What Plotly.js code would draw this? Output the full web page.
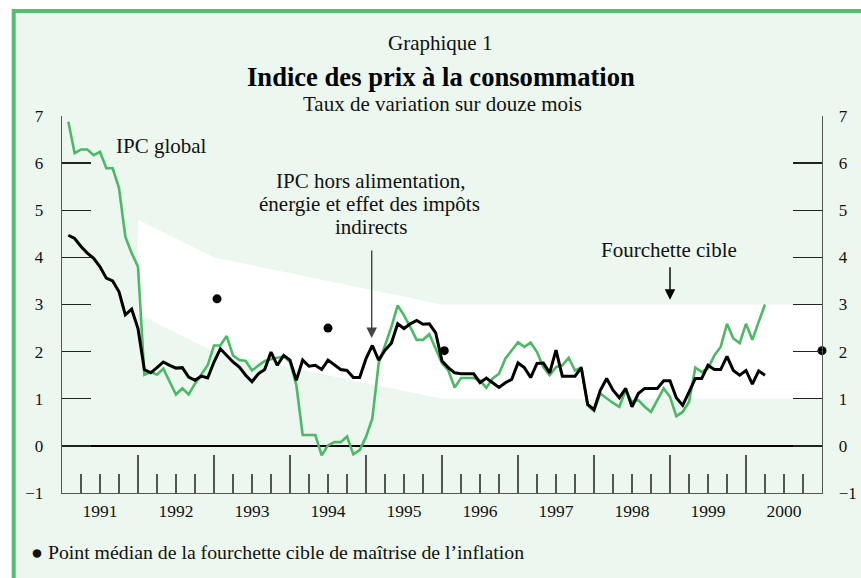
<!DOCTYPE html>
<html>
<head>
<meta charset="utf-8">
<script src="https://cdn.plot.ly/plotly-3.0.1.min.js"></script>
<style>html,body{margin:0;padding:0;background:#fff;} #chart{width:861px;height:578px;}</style>
</head>
<body>
<div id="chart"></div>
<script>
// Monthly observations, January 1991 to March 2000 (12-month % change)
const startYear = 1991;
const cpiTotal = [
  6.88, 6.21, 6.29, 6.29, 6.17, 6.24, 5.89, 5.89, 5.47, 4.44, 4.09, 3.80,
  1.51, 1.57, 1.51, 1.64, 1.36, 1.09, 1.22, 1.09, 1.32, 1.51, 1.71, 2.13,
  2.13, 2.33, 1.92, 1.82, 1.80, 1.60, 1.71, 1.80, 1.84, 1.87, 1.90, 1.78,
  1.29, 0.23, 0.23, 0.23, -0.20, 0.01, 0.08, 0.08, 0.20, -0.18, -0.09, 0.19,
  0.58, 1.75, 2.13, 2.52, 2.98, 2.77, 2.52, 2.25, 2.25, 2.37, 2.06, 1.75,
  1.60, 1.24, 1.44, 1.44, 1.44, 1.39, 1.23, 1.43, 1.53, 1.85, 2.03, 2.20,
  2.10, 2.19, 1.99, 1.67, 1.50, 1.67, 1.71, 1.87, 1.60, 1.66, 0.86, 0.74,
  1.11, 1.00, 0.91, 0.83, 1.18, 0.93, 0.97, 0.83, 0.72, 0.97, 1.22, 1.04,
  0.63, 0.72, 0.93, 1.66, 1.57, 1.64, 1.92, 2.10, 2.59, 2.28, 2.18, 2.59,
  2.25, 2.63, 3.00
];
const cpiCore = [
  4.47, 4.40, 4.23, 4.09, 3.98, 3.80, 3.56, 3.50, 3.27, 2.78, 2.90, 2.49,
  1.62, 1.55, 1.66, 1.78, 1.71, 1.65, 1.66, 1.46, 1.39, 1.48, 1.44, 1.78,
  2.06, 1.92, 1.78, 1.67, 1.50, 1.36, 1.53, 1.62, 1.99, 1.71, 1.92, 1.82,
  1.39, 1.82, 1.69, 1.71, 1.62, 1.82, 1.71, 1.62, 1.60, 1.45, 1.45, 1.85,
  2.13, 1.82, 2.03, 2.18, 2.59, 2.49, 2.59, 2.66, 2.58, 2.59, 2.40, 1.80,
  1.66, 1.55, 1.53, 1.53, 1.53, 1.34, 1.44, 1.34, 1.24, 1.34, 1.41, 1.76,
  1.66, 1.45, 1.75, 1.76, 1.55, 2.03, 1.48, 1.48, 1.48, 1.66, 0.88, 0.77,
  1.18, 1.43, 1.18, 1.02, 1.22, 0.83, 1.11, 1.22, 1.22, 1.22, 1.38, 1.38,
  1.02, 0.86, 1.14, 1.43, 1.43, 1.71, 1.62, 1.62, 1.90, 1.60, 1.50, 1.60,
  1.31, 1.59, 1.50
];
// Inflation-control target range
const bandYears = [1992.0, 1993.0, 1996.0, 2001.0];
const bandHigh  = [4.8, 4.0, 3.0, 3.0];
const bandLow   = [2.8, 2.0, 1.0, 1.0];
// Target mid-points
const midYears  = [1993.04, 1994.5, 1996.03, 2001.0];
const midValues = [3.12, 2.5, 2.02, 2.02];
// Axis labels
const yearLabels = ['1991','1992','1993','1994','1995','1996','1997','1998','1999','2000'];
const yTicks = [-1, 0, 1, 2, 3, 4, 5, 6, 7];

// month-end positions on a decimal-year axis
const monthX = cpiTotal.map((_, i) => startYear + (i + 1) / 12);
const yearMid = yearLabels.map(y => Number(y) + 0.5);

const GREEN = '#4db865';
const FONT = '"Liberation Serif"';

const traces = [
  {x: bandYears, y: bandLow, type: 'scatter', mode: 'lines', line: {width: 0, color: 'rgba(0,0,0,0)'}, hoverinfo: 'skip'},
  {x: bandYears, y: bandHigh, type: 'scatter', mode: 'lines', line: {width: 0, color: 'rgba(0,0,0,0)'}, fill: 'tonexty', fillcolor: '#ffffff', hoverinfo: 'skip'},
  {x: monthX, y: cpiTotal, type: 'scatter', mode: 'lines', line: {color: GREEN, width: 2.6}, name: 'IPC global'},
  {x: monthX, y: cpiCore, type: 'scatter', mode: 'lines', line: {color: '#000000', width: 3}, name: 'IPC hors alimentation'},
  {x: midYears, y: midValues, type: 'scatter', mode: 'markers', xaxis: 'x2', yaxis: 'y2', marker: {color: '#000', size: 9}, cliponaxis: false, name: 'Point médian'}
];

const axisGray = '#555';
const px = v => (v - 62) / 760;
const py = v => (493 - v) / 377;
const txt = (x, y, text, size, extra) => Object.assign({
  xref: 'paper', yref: 'paper', x: px(x), y: py(y), xanchor: 'center', yanchor: 'middle',
  text: text, showarrow: false, font: {size: size, family: FONT, color: '#111'}
}, extra || {});

const layout = {
  width: 861, height: 578,
  margin: {l: 62, r: 39, t: 116, b: 85, pad: 0},
  paper_bgcolor: '#ffffff',
  plot_bgcolor: 'rgba(0,0,0,0)',
  showlegend: false,
  font: {family: FONT, color: '#111'},
  xaxis: {
    range: [1991, 2001], showgrid: false, zeroline: false,
    showline: true, linecolor: axisGray, linewidth: 1.3,
    tickmode: 'linear', tick0: 1991, dtick: 1,
    ticks: 'inside', ticklen: 38, tickwidth: 1.3, tickcolor: axisGray,
    minor: {ticks: 'inside', ticklen: 19, tickwidth: 1.3, tickcolor: axisGray, tick0: 1991, dtick: 0.25, showgrid: false},
    showticklabels: false, fixedrange: true
  },
  xaxis2: {
    range: [1991, 2001], overlaying: 'x', anchor: 'y2', side: 'bottom',
    showgrid: false, zeroline: false, showline: false,
    tickmode: 'array', tickvals: yearMid, ticktext: yearLabels,
    ticks: '', tickfont: {family: FONT, size: 17.5, color: '#111'},
    ticklabelstandoff: 5, fixedrange: true
  },
  yaxis: {
    range: [-1, 7], showgrid: false,
    zeroline: true, zerolinecolor: '#000', zerolinewidth: 2.2,
    showline: true, linecolor: axisGray, linewidth: 1.3,
    tickmode: 'array', tickvals: yTicks,
    ticks: 'inside', ticklen: 29, tickwidth: 1.3, tickcolor: '#222',
    tickfont: {family: FONT, size: 17, color: '#111'},
    ticklabelstandoff: 14, fixedrange: true
  },
  yaxis2: {
    range: [-1, 7], overlaying: 'y', anchor: 'x2', side: 'right',
    showgrid: false, zeroline: false,
    showline: true, linecolor: axisGray, linewidth: 1.3,
    tickmode: 'array', tickvals: yTicks,
    ticks: 'inside', ticklen: 29, tickwidth: 1.3, tickcolor: '#222',
    tickfont: {family: FONT, size: 17, color: '#111'},
    ticklabelstandoff: 12, fixedrange: true
  },
  shapes: [
    {type: 'rect', xref: 'paper', yref: 'paper', layer: 'below',
     x0: px(13.7), x1: px(900), y0: py(620), y1: py(11),
     line: {color: '#55bf70', width: 4}, fillcolor: '#ecf7ef'}
  ],
  annotations: [
    txt(440, 43, 'Graphique 1', 21),
    txt(441, 77, '<b>Indice des prix à la consommation</b>', 26.6, {font: {size: 26.6, family: FONT, color: '#000'}}),
    txt(442, 104, 'Taux de variation sur douze mois', 21),
    txt(161, 146, 'IPC global', 21),
    txt(371, 181, 'IPC hors alimentation,', 21),
    txt(369, 204, 'énergie et effet des impôts', 21),
    txt(371, 227, 'indirects', 21),
    txt(669, 250, 'Fourchette cible', 21),
    {xref: 'x', yref: 'y', x: 1995.075, y: 2.29, text: '', showarrow: true, ax: 0, ay: -89,
     arrowhead: 2, arrowsize: 1.5, arrowwidth: 1.4, arrowcolor: '#444', standoff: 0},
    {xref: 'x', yref: 'y', x: 1999.0, y: 3.1, text: '', showarrow: true, ax: 0, ay: -34,
     arrowhead: 2, arrowsize: 1.5, arrowwidth: 1.4, arrowcolor: '#000', standoff: 0},
    txt(29, 552, '● Point médian de la fourchette cible de maîtrise de l’inflation', 19.8, {xanchor: 'left'})
  ]
};

Plotly.newPlot('chart', traces, layout, {staticPlot: true, displayModeBar: false});
</script>
</body>
</html>
